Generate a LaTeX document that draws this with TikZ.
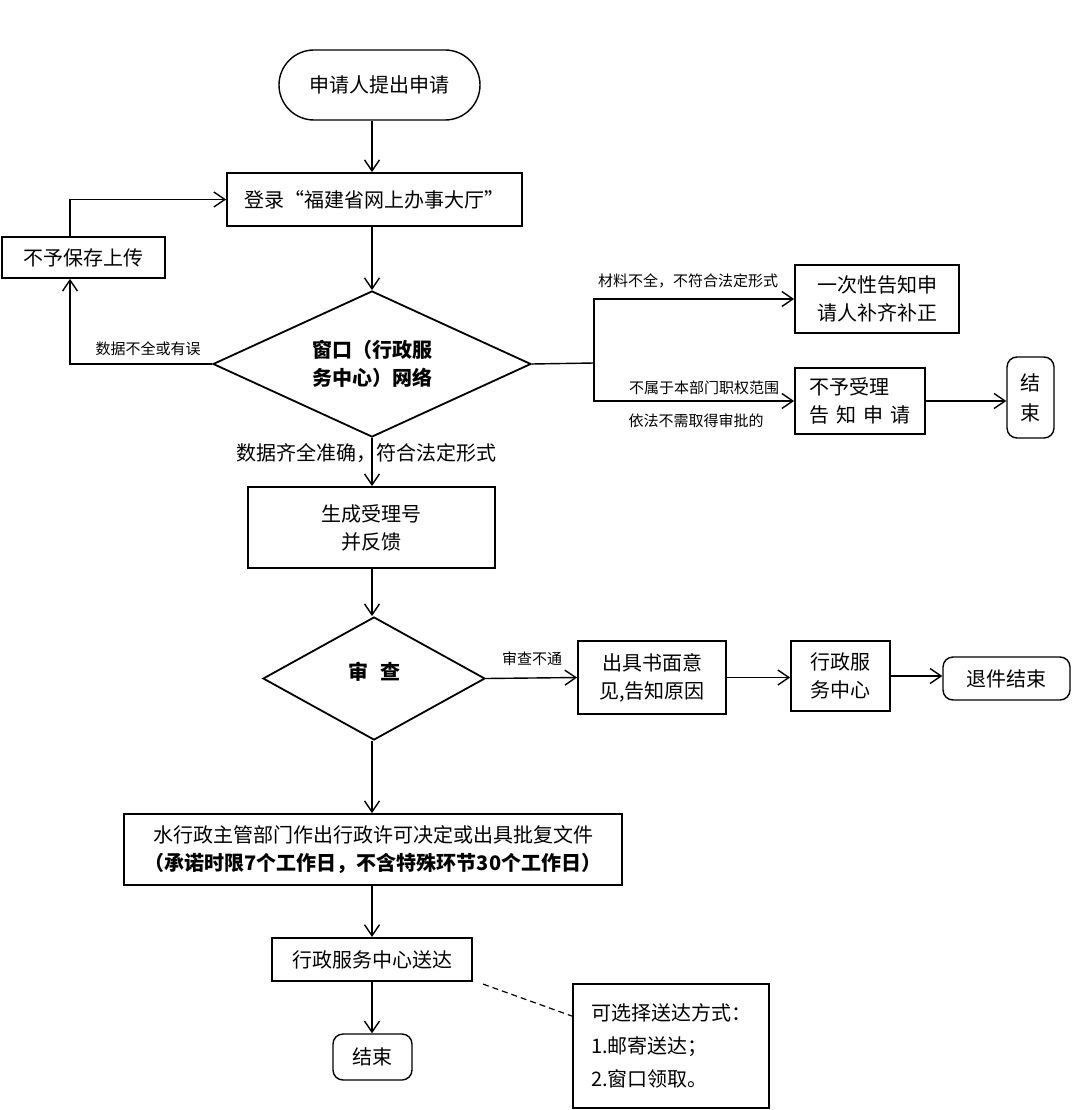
\documentclass[tikz,border=0pt]{standalone}
\usepackage{fontspec}
\setmainfont{Noto Sans CJK SC}
\usepackage{tikz}
\usetikzlibrary{shapes}
\usetikzlibrary{arrows.meta}
\tikzstyle{Box}=[draw,line width=1.8pt,inner sep=2pt,align=center,
font=\fontsize{20}{28}\selectfont]
\tikzstyle{BoxR}=[Box,rounded corners=10pt,line width=1.4pt]
\tikzstyle{Decision}=[Box,diamond,inner sep=0pt]
\tikzstyle{Edge}=[draw,line width=1.4pt]
\tikzstyle{EdgeA}=[Edge,-{Straight Barb[length=11pt,width=15pt]}]
\tikzstyle{EdgeDash}=[Edge,dash pattern=on 6pt off 4pt,line width=1.2pt]
\tikzstyle{NodeLbl}=[font=\fontsize{15}{18}\selectfont,inner sep=1pt]
\tikzstyle{NodeLblL}=[font=\fontsize{20}{28}\selectfont,inner sep=1pt]

\begin{document}
\begin{tikzpicture}[x=1pt,y=-1pt]
        \useasboundingbox(0,0)rectangle(1071,1110);
        \node[BoxR,rounded corners=35pt,minimum width=201pt,
            minimum height=70pt](Start)at(379.5,85){申请人提出申请};
        \node[Box,minimum width=295pt,minimum height=53pt](Login)
            at(374.5,199.5){登录“福建省网上办事大厅”};
        \node[Decision,aspect=2.2,minimum width=318pt,minimum height=146pt,
            font=\fontsize{20}{28}\selectfont\bfseries](Window)
            at(372,364){窗口（行政服\\务中心）网络};
        \node[Box,minimum width=163pt,minimum height=41pt](Reject)
            at(83.5,257.5){不予保存上传};
        \node[Box,minimum width=164pt,minimum height=68pt](Notify)
            at(877,299){一次性告知申\\请人补齐补正};
        \node[Box,minimum width=130pt,minimum height=66pt,align=left](Refuse)
            at(860,401){不予受理\\告\hspace{7pt}知\hspace{7pt}申\hspace{7pt}请};
        \node[BoxR,minimum width=47pt,minimum height=81pt,
            font=\fontsize{20}{30}\selectfont](EndA)at(1030.5,397.5){结\\束};
        \node[Box,minimum width=247pt,minimum height=81pt](Accept)
            at(371.5,527.5){生成受理号\\并反馈};
        \node[Decision,aspect=1.8,minimum width=222pt,minimum height=123pt,
            font=\fontsize{20}{28}\selectfont\bfseries](Review)
            at(374,678.5){\raisebox{16pt}{审\hspace{0.6em}查}};
        \node[Box,minimum width=148pt,minimum height=73pt](Opinion)
            at(652,677.5){出具书面意\\见,告知原因};
        \node[Box,minimum width=99pt,minimum height=70pt](Center)
            at(840.5,676){行政服\\务中心};
        \node[BoxR,minimum width=127pt,minimum height=43pt](Withdraw)
            at(1006.5,678.5){退件结束};
        \node[Box,minimum width=498pt,minimum height=71pt](Decide)
            at(373,849.5){水行政主管部门作出行政许可决定或出具批复文件\\
            {\bfseries （承诺时限7个工作日，不含特殊环节30个工作日）}};
        \node[Box,line width=2.2pt,minimum width=200pt,minimum height=43pt]
            (Deliver)at(372,959.5){行政服务中心送达};
        \node[BoxR,minimum width=79pt,minimum height=46pt](EndB)
            at(372.5,1057){结束};
        \node[Box,minimum width=196pt,minimum height=124pt,align=left,
            font=\fontsize{20}{33}\selectfont](Note)
            at(671,1046){可选择送达方式：\\1.邮寄送达；\\2.窗口领取。};
        \node[NodeLbl](LblErr)at(148,349){数据不全或有误};
        \node[NodeLbl](LblLack)at(688,281){材料不全，不符合法定形式};
        \node[NodeLbl](LblScope)at(704,388){不属于本部门职权范围};
        \node[NodeLbl](LblNoNeed)at(696,421){依法不需取得审批的};
        \node[NodeLblL](LblOk)at(366,453){数据齐全准确，符合法定形式};
        \node[NodeLbl](LblFail)at(532,659){审查不通};
        \coordinate(Fork)at(594,363);
        \draw[EdgeA](Start.south-|Window)--(Login.north-|Window);
        \draw[EdgeA](Login.south-|Window)--(Window.north);
        \draw[EdgeA](Window.west)-|([xshift=-13.5pt]Reject.south);
        \draw[EdgeA]([xshift=-13.5pt]Reject.north)|-(Login.west);
        \draw[Edge](Window.east)--(Fork);
        \draw[EdgeA](Fork)|-(Notify.west);
        \draw[EdgeA](Fork)|-(Refuse.west);
        \draw[EdgeA](Refuse.east)--(Refuse.east-|EndA.west);
        \draw[EdgeA](Window.south)--(Accept.north-|Window);
        \draw[EdgeA](Accept.south-|Window)--(Review.north-|Window);
        \draw[EdgeA](Review.east)--(Opinion.west);
        \draw[EdgeA](Opinion.east)--(Opinion.east-|Center.west);
        \draw[EdgeA](Center.east)--(Center.east-|Withdraw.west);
        \draw[EdgeA](Review.south-|Window)--(Decide.north-|Window);
        \draw[EdgeA](Decide.south-|Window)--(Deliver.north-|Window);
        \draw[EdgeA](Deliver.south-|Window)--(EndB.north-|Window);
        \draw[EdgeDash]([xshift=10pt,yshift=-2pt]Deliver.south east)
            --([yshift=-33pt]Note.north west);
    \end{tikzpicture}
\end{document}
